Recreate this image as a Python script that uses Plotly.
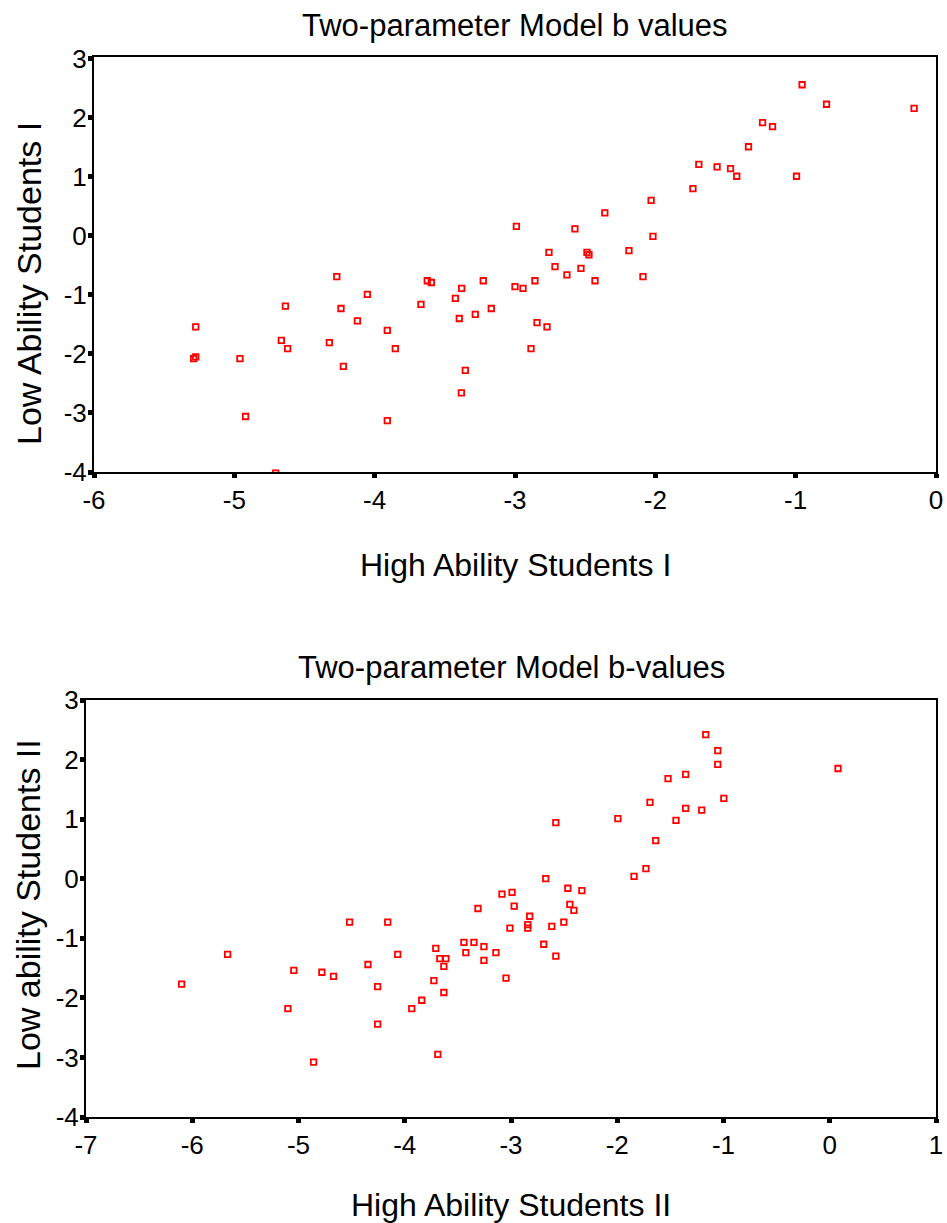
import plotly.graph_objects as go

# ---- Data: top chart (Model b values, set I) ----
high_I = [-2.99, -4.27, -3.625, -3.596, -3.38, -3.226, -3.00, -4.052, -4.636, -4.24,
          -3.67, -3.425, -3.169, -4.123, -3.397, -3.283, -5.275, -3.91, -4.665, -4.323,
          -4.62, -3.853, -5.275, -5.29, -4.96, -4.223, -3.354, -3.382, -4.92, -3.91,
          -4.705,
          -0.954, -0.78, -0.156, -1.236, -1.165, -1.336, -1.69, -1.56, -1.464, -1.42,
          -0.994, -1.732, -2.03, -2.36, -2.573, -2.017, -2.758, -2.487, -2.473, -2.188,
          -2.715, -2.53, -2.63, -2.088, -2.858, -2.43, -2.943, -2.843, -2.772, -2.886]
low_I = [0.16, -0.69, -0.76, -0.79, -0.89, -0.76, -0.86, -0.99, -1.19, -1.23,
         -1.16, -1.06, -1.23, -1.44, -1.40, -1.33, -1.54, -1.60, -1.77, -1.81,
         -1.91, -1.91, -2.05, -2.08, -2.08, -2.21, -2.28, -2.66, -3.06, -3.13,
         -4.02,
         2.56, 2.23, 2.16, 1.92, 1.85, 1.51, 1.21, 1.17, 1.14, 1.01,
         1.01, 0.80, 0.60, 0.39, 0.12, -0.01, -0.28, -0.28, -0.32, -0.25,
         -0.52, -0.55, -0.66, -0.69, -0.76, -0.76, -0.89, -1.47, -1.54, -1.91]

# ---- Data: bottom chart (Model b-values, set II) ----
high_II = [-6.10, -5.667, -5.044, -5.10, -4.858, -4.78, -4.67, -4.519, -4.346, -4.255,
           -4.255, -4.16, -4.066, -3.934, -3.84, -3.726, -3.708, -3.67, -3.613, -3.632,
           -3.632, -3.689, -3.443, -3.349, -3.425, -3.255, -3.255, -3.142, -3.311, -3.085,
           -2.99, -2.97, -3.01, -3.047,
           -1.167, -1.054, -1.054, 0.078, -1.356, -1.522, -0.997, -1.692, -1.356, -1.205,
           -1.447, -1.994, -2.578, -1.638, -1.73, -1.842, -2.673, -2.465, -2.333, -2.446,
           -2.408, -2.824, -2.842, -2.842, -2.616, -2.503, -2.692, -2.578]
low_II = [-1.77, -1.27, -1.54, -2.18, -3.08, -1.57, -1.64, -0.73, -1.44, -1.81,
          -2.44, -0.73, -1.27, -2.18, -2.04, -1.71, -1.17, -1.34, -1.34, -1.47,
          -1.91, -2.95, -1.07, -1.07, -1.24, -1.14, -1.37, -1.24, -0.50, -0.26,
          -0.23, -0.46, -0.83, -1.67,
          2.42, 2.15, 1.92, 1.85, 1.75, 1.68, 1.35, 1.28, 1.18, 1.15,
          0.98, 1.01, 0.94, 0.64, 0.17, 0.04, 0.00, -0.16, -0.20, -0.43,
          -0.53, -0.63, -0.77, -0.83, -0.80, -0.73, -1.10, -1.30]

x_ticks_I = [-6, -5, -4, -3, -2, -1, 0]
x_ticks_II = [-7, -6, -5, -4, -3, -2, -1, 0, 1]
y_ticks = [-4, -3, -2, -1, 0, 1, 2, 3]

titles = ["Two-parameter Model b values", "Two-parameter Model b-values"]
x_titles = ["High Ability Students I", "High Ability Students II"]
y_titles = ["Low Ability Students I", "Low ability Students II"]

FONT = "Arial, Liberation Sans, Helvetica, sans-serif"
W, H = 947, 1223

marker = dict(symbol="square-open", size=5.5, color="#ff0000",
              line=dict(color="#ff0000", width=1.8))

fig = go.Figure()
fig.add_trace(go.Scatter(x=high_I, y=low_I, mode="markers", marker=marker,
                         xaxis="x", yaxis="y", showlegend=False, hoverinfo="x+y"))
fig.add_trace(go.Scatter(x=high_II, y=low_II, mode="markers", marker=marker,
                         xaxis="x2", yaxis="y2", showlegend=False, hoverinfo="x+y"))

def ax(rng, ticks, domain, anchor, standoff=0):
    return dict(range=rng, tickvals=ticks, ticktext=[str(t) for t in ticks],
                domain=domain, anchor=anchor, showgrid=False, zeroline=False,
                automargin=False, ticklabelstandoff=standoff,
                showline=True, linecolor="black", linewidth=2, mirror=True,
                ticks="outside", ticklen=4, tickwidth=5, tickcolor="black",
                tickfont=dict(family=FONT, size=26, color="black"))

# pixel geometry of plot frames
top = dict(l=94, r=936, t=57, b=472)
bot = dict(l=86, r=936, t=700, b=1117)

fig.update_layout(
    template="none",
    width=W, height=H, autosize=False,
    margin=dict(l=0, r=0, t=0, b=0, pad=0),
    paper_bgcolor="white", plot_bgcolor="white",
    xaxis=ax([-6, 0], x_ticks_I, [top["l"] / W, top["r"] / W], "y"),
    yaxis=ax([-4, 3.03], y_ticks, [1 - top["b"] / H, 1 - top["t"] / H], "x", -4),
    xaxis2=ax([-7, 1], x_ticks_II, [bot["l"] / W, bot["r"] / W], "y2"),
    yaxis2=ax([-4, 3], y_ticks, [1 - bot["b"] / H, 1 - bot["t"] / H], "x2", -4),
)

# (frame, title y, x-title y, y-title x, y-title centre y) in pixels
spots = [(top, 25, 565, 29, 284), (bot, 667, 1205, 28, 905)]
ann = []
for i, (fr, ty, xy, yx, yc) in enumerate(spots):
    cx = (fr["l"] + fr["r"]) / 2 / W
    ann.append(dict(text=titles[i], x=cx, y=1 - ty / H, xref="paper", yref="paper",
                    showarrow=False, xanchor="center", yanchor="middle",
                    font=dict(family=FONT, size=31, color="black")))
    ann.append(dict(text=x_titles[i], x=cx, y=1 - xy / H, xref="paper", yref="paper",
                    showarrow=False, xanchor="center", yanchor="middle",
                    font=dict(family=FONT, size=32, color="black")))
    ann.append(dict(text=y_titles[i], x=yx / W, y=1 - yc / H, xref="paper", yref="paper",
                    showarrow=False, xanchor="center", yanchor="middle", textangle=-90,
                    font=dict(family=FONT, size=34, color="black")))
fig.update_layout(annotations=ann)

fig.write_html("out.html")
